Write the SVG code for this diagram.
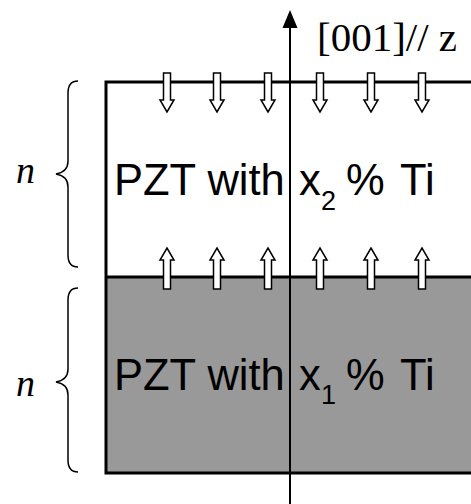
<svg xmlns="http://www.w3.org/2000/svg" width="471" height="504" viewBox="0 0 471 504">
<defs>
<style>
.sans{font-family:"Liberation Sans",Arial,sans-serif;fill:#000}
.serif{font-family:"Liberation Serif","Times New Roman",serif;fill:#000}
.edge{stroke:#000;stroke-width:3;fill:none}
.ax{stroke:#000;stroke-width:2;fill:none}
.pol{fill:#fff;stroke:#000;stroke-width:1.5;stroke-linejoin:miter}
.brace{fill:none;stroke:#000;stroke-width:1.5}
</style>
<path id="dn" class="pol" d="M-3.5,73 L3.5,73 L3.5,100 L7,100 L0,112 L-7,100 L-3.5,100 Z"/>
<path id="up" class="pol" d="M-3.5,289 L3.5,289 L3.5,260 L7,260 L0,248 L-7,260 L-3.5,260 Z"/>
</defs>
<rect width="471" height="504" fill="#fff"/>
<g id="layer-x1">
<rect x="106" y="277" width="370" height="196" fill="#999"/>
<text class="sans" x="114" y="390" font-size="43.5">PZT with</text>
<text class="sans" x="299" y="390" font-size="43.5">x</text>
<text class="sans" x="321" y="404" font-size="27">1</text>
<text class="sans" x="346" y="390" font-size="43.5">%</text>
<text class="sans" x="400" y="390" font-size="43.5">Ti</text>
</g>
<g id="layer-x2">
<text class="sans" x="114" y="195" font-size="43.5">PZT with</text>
<text class="sans" x="299" y="195" font-size="43.5">x</text>
<text class="sans" x="321" y="210" font-size="27">2</text>
<text class="sans" x="346" y="195" font-size="43.5">%</text>
<text class="sans" x="400" y="195" font-size="43.5">Ti</text>
</g>
<g id="connectors">
<path class="edge" d="M476,82 H106 V473 H476 M106,277 H476"/>
<path class="ax" d="M290,26 V504"/>
<polygon points="290,10 282.5,28 297.5,28" fill="#000"/>
</g>
<g id="axis-label">
<text class="serif" x="317" y="51" font-size="41">[001]// z</text>
</g>
<g id="dipoles-down">
<use href="#dn" x="167"/><use href="#dn" x="217"/><use href="#dn" x="268"/>
<use href="#dn" x="320"/><use href="#dn" x="371"/><use href="#dn" x="422"/>
</g>
<g id="dipoles-up">
<use href="#up" x="167"/><use href="#up" x="217"/><use href="#up" x="268"/>
<use href="#up" x="320"/><use href="#up" x="371"/><use href="#up" x="422"/>
</g>
<g id="brace-top">
<path class="brace" d="M78,81 Q68,81 68,93 L68,161 Q68,172 56,174 Q68,176 68,187 L68,255 Q68,267 78,267"/>
<text class="serif" x="16" y="183" font-size="38" font-style="italic">n</text>
</g>
<g id="brace-bottom">
<path class="brace" d="M78,288 Q68,288 68,300 L68,369 Q68,380 56,382 Q68,384 68,395 L68,460 Q68,472 78,472"/>
<text class="serif" x="16" y="396" font-size="38" font-style="italic">n</text>
</g>
</svg>
